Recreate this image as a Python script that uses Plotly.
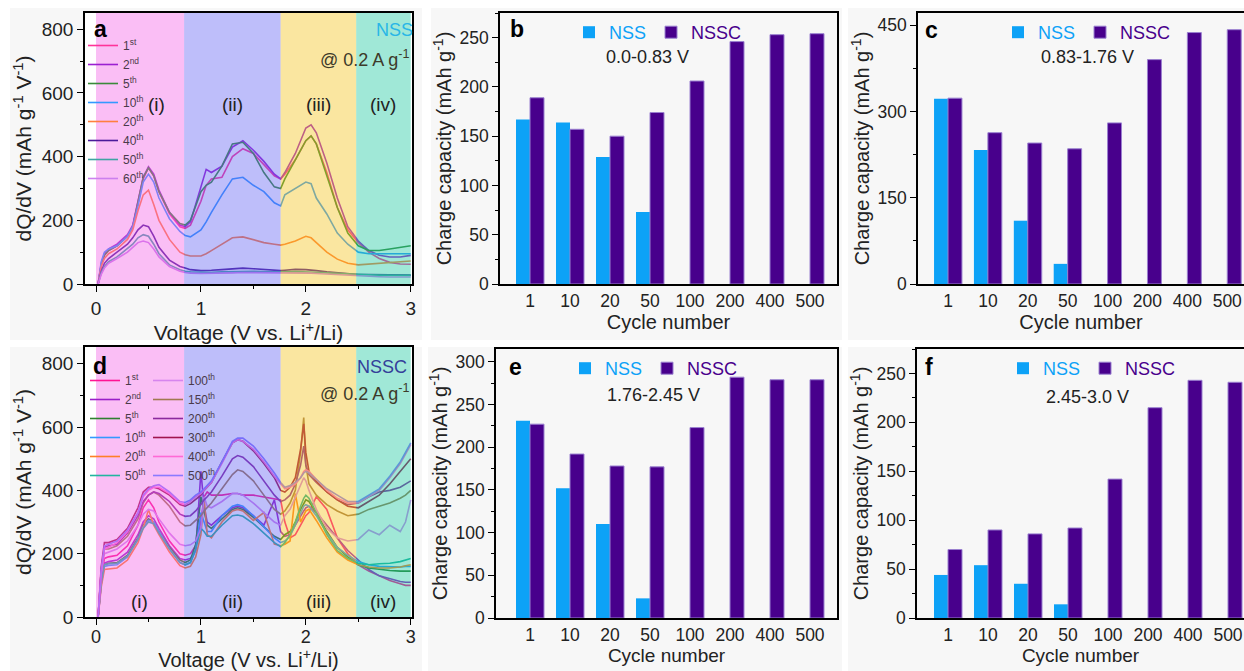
import plotly.graph_objects as go

W, H = 1244, 671
FONT = "Liberation Sans, Arial, sans-serif"

# ---------------- panel a : NSS dQ/dV ----------------
volt_a = [0.02, 0.05, 0.08, 0.12, 0.2, 0.3, 0.35, 0.4, 0.45, 0.5, 0.55, 0.6, 0.7, 0.8, 0.85, 0.9,
          1.0, 1.05, 1.1, 1.2, 1.3, 1.4, 1.5, 1.6, 1.7, 1.76, 1.8, 1.9, 2.0, 2.05, 2.1, 2.2, 2.3,
          2.4, 2.5, 2.6, 2.7, 2.8, 2.9, 3.0]
nss_1st = [0, 60, 90, 105, 120, 150, 180, 250, 330, 365, 340, 290, 220, 180, 175, 185, 260, 310, 330, 335,
           400, 425, 410, 375, 340, 330, 345, 390, 450, 465, 440, 350, 240, 170, 130, 100, 80, 68, 63, 62]
nss_2nd = [0, 65, 95, 110, 125, 155, 185, 255, 335, 368, 345, 295, 225, 185, 180, 195, 300, 360, 350, 370,
           430, 450, 420, 385, 345, 330, 350, 410, 490, 500, 475, 380, 270, 180, 135, 105, 90, 85, 85, 90]
nss_5th = [0, 60, 90, 105, 120, 150, 180, 255, 335, 365, 340, 290, 225, 190, 185, 200, 290, 310, 320, 370,
           440, 445, 410, 350, 305, 300, 330, 390, 450, 465, 440, 340, 240, 160, 120, 105, 105, 110, 115, 120]
nss_10th = [0, 70, 100, 110, 120, 150, 180, 245, 320, 345, 320, 270, 205, 165, 152, 148, 170, 195, 225, 280,
            330, 335, 310, 290, 255, 245, 280, 300, 320, 315, 270, 220, 160, 125, 100, 95, 95, 95, 95, 95]
nss_20th = [0, 55, 80, 95, 110, 140, 170, 230, 280, 295, 250, 200, 140, 100, 92, 88, 88, 95, 105, 125,
            145, 148, 140, 130, 125, 122, 125, 135, 150, 145, 130, 100, 78, 65, 60, 62, 65, 68, 70, 72]
nss_40th = [0, 40, 65, 80, 100, 125, 145, 170, 185, 180, 150, 115, 75, 55, 50, 45, 42, 42, 43, 45,
            48, 50, 48, 45, 43, 42, 43, 46, 45, 44, 42, 38, 35, 32, 30, 30, 29, 28, 28, 28]
nss_50th = [0, 35, 55, 70, 85, 110, 125, 145, 155, 150, 125, 95, 60, 45, 40, 38, 37, 37, 37, 38,
            39, 40, 40, 39, 38, 38, 38, 39, 39, 38, 37, 35, 33, 31, 30, 29, 28, 27, 27, 27]
nss_60th = [0, 30, 50, 65, 80, 100, 115, 130, 135, 130, 110, 85, 55, 40, 36, 34, 33, 33, 33, 34,
            35, 36, 36, 35, 34, 34, 34, 35, 35, 34, 33, 31, 29, 27, 25, 24, 23, 22, 22, 22]
nss_names = ["1<sup>st</sup>", "2<sup>nd</sup>", "5<sup>th</sup>", "10<sup>th</sup>", "20<sup>th</sup>",
             "40<sup>th</sup>", "50<sup>th</sup>", "60<sup>th</sup>"]
nss_colors = ["#ff3399", "#9b1fd1", "#3a8a3a", "#3399ff", "#ff7f3f", "#4b1a9a", "#3fa3a3", "#cc80ee"]

# ---------------- panel d : NSSC dQ/dV ----------------
volt_d = [0.02, 0.05, 0.08, 0.12, 0.2, 0.3, 0.4, 0.45, 0.5, 0.55, 0.6, 0.7, 0.8, 0.85, 0.9, 0.95,
          1.0, 1.03, 1.06, 1.1, 1.2, 1.3, 1.35, 1.4, 1.5, 1.6, 1.7, 1.76, 1.8, 1.85, 1.9, 1.95,
          1.98, 2.0, 2.03, 2.1, 2.2, 2.3, 2.4, 2.5, 2.6, 2.7, 2.8, 2.9, 2.95, 3.0]
nssc_1st = [0, 120, 185, 190, 195, 225, 290, 345, 370, 345, 300, 240, 200, 195, 200, 225, 300, 380, 395, 385,
            385, 390, 390, 385, 385, 380, 375, 370, 300, 250, 260, 290, 310, 320, 330, 380, 340, 250, 200, 165,
            145, 130, 115, 105, 100, 100]
nssc_2nd = [0, 110, 170, 175, 180, 205, 260, 300, 320, 310, 280, 225, 185, 180, 185, 210, 460, 350, 300, 290,
            320, 345, 350, 345, 320, 290, 370, 270, 255, 260, 290, 320, 335, 345, 350, 330, 290, 250, 210, 180,
            150, 130, 120, 112, 110, 110]
nssc_5th = [0, 110, 165, 170, 172, 195, 250, 290, 310, 300, 270, 220, 180, 172, 180, 230, 380, 330, 290, 280,
            310, 340, 345, 340, 315, 285, 255, 245, 260, 270, 300, 340, 360, 370, 365, 330, 270, 220, 190, 165,
            155, 150, 147, 145, 145, 145]
nssc_10th = [0, 105, 160, 163, 165, 190, 245, 285, 305, 300, 270, 215, 172, 165, 172, 210, 330, 300, 270, 270,
             320, 350, 355, 350, 320, 285, 250, 235, 240, 255, 290, 330, 350, 355, 350, 320, 265, 220, 195, 175,
             165, 160, 158, 158, 160, 160]
nssc_20th = [0, 95, 150, 152, 155, 180, 235, 280, 340, 290, 260, 205, 162, 155, 160, 190, 260, 380, 260, 250,
             300, 335, 340, 335, 305, 330, 230, 225, 230, 240, 390, 300, 320, 335, 340, 305, 250, 205, 180, 165,
             158, 155, 155, 158, 162, 165]
nssc_50th = [0, 105, 165, 168, 170, 192, 245, 280, 300, 295, 265, 215, 172, 165, 172, 215, 280, 270, 255, 255,
             290, 320, 322, 318, 295, 265, 235, 222, 235, 260, 300, 350, 375, 385, 375, 330, 260, 210, 185, 170,
             165, 168, 170, 175, 180, 185]
nssc_100th = [0, 140, 200, 205, 215, 240, 290, 325, 340, 335, 310, 265, 230, 225, 228, 240, 280, 380, 350, 345,
              365, 390, 390, 385, 360, 330, 300, 290, 320, 340, 380, 420, 440, 430, 400, 340, 280, 250, 240, 245,
              275, 260, 290, 270, 300, 370]
nssc_150th = [0, 150, 215, 215, 225, 255, 310, 360, 385, 395, 385, 350, 300, 288, 290, 305, 320, 335, 345, 360,
              405, 450, 465, 460, 430, 385, 340, 325, 335, 360, 400, 520, 630, 480, 420, 385, 355, 335, 320, 325,
              340, 350, 360, 375, 385, 400]
nssc_200th = [0, 150, 220, 225, 230, 265, 320, 365, 385, 395, 390, 365, 325, 318, 320, 335, 355, 370, 380, 395,
              445, 500, 510, 505, 475, 430, 385, 365, 370, 385, 420, 480, 540, 480, 450, 425, 395, 370, 355, 360,
              380, 395, 400, 410, 420, 430]
nssc_300th = [0, 160, 235, 235, 245, 280, 345, 395, 410, 410, 405, 385, 355, 350, 358, 372, 385, 400, 410, 425,
              490, 550, 560, 555, 525, 485, 440, 400, 395, 410, 440, 530, 610, 520, 460, 430, 395, 370, 350, 345,
              365, 385, 420, 460, 480, 500]
nssc_400th = [0, 140, 215, 220, 235, 270, 330, 380, 400, 410, 410, 390, 360, 355, 365, 380, 390, 400, 410, 425,
              485, 550, 560, 555, 530, 490, 445, 420, 405, 410, 420, 440, 460, 465, 460, 435, 400, 375, 360, 360,
              380, 400, 440, 485, 515, 545]
nssc_500th = [0, 150, 225, 230, 240, 275, 330, 385, 405, 415, 418, 395, 365, 362, 370, 385, 395, 405, 415, 430,
              490, 555, 565, 565, 540, 500, 455, 425, 410, 415, 425, 440, 455, 460, 455, 435, 405, 385, 365, 365,
              385, 405, 445, 490, 520, 550]
nssc_names_1 = ["1<sup>st</sup>", "2<sup>nd</sup>", "5<sup>th</sup>", "10<sup>th</sup>", "20<sup>th</sup>", "50<sup>th</sup>"]
nssc_names_2 = ["100<sup>th</sup>", "150<sup>th</sup>", "200<sup>th</sup>", "300<sup>th</sup>", "400<sup>th</sup>", "500<sup>th</sup>"]
nssc_colors_1 = ["#ff1493", "#9a1fc8", "#2f7f2f", "#3399ff", "#ff7f27", "#22b5a0"]
nssc_colors_2 = ["#d685ee", "#a07850", "#8b2a9e", "#a0144e", "#ff6ad5", "#8a7aff"]

# voltage regions (i)-(iv)
region_edges = [0.0, 0.84, 1.76, 2.48, 3.0]
region_colors = ["#f25ce6", "#5c5cf2", "#f2c011", "#11c59b"]
region_labels = ["(i)", "(ii)", "(iii)", "(iv)"]

# ---------------- bar panels b, c, e, f ----------------
cycles = ["1", "10", "20", "50", "100", "200", "400", "500"]
b_nss = [167, 164, 129, 73]
b_nssc = [189, 157, 150, 174, 206, 246, 253, 254]
c_nss = [322, 233, 110, 35]
c_nssc = [323, 263, 245, 235, 280, 390, 437, 442]
e_nss = [231, 152, 110, 23]
e_nssc = [227, 192, 178, 177, 223, 282, 279, 279]
f_nss = [44, 54, 35, 14]
f_nssc = [70, 90, 86, 92, 142, 215, 243, 241]
windows = ["0.0-0.83 V", "0.83-1.76 V", "1.76-2.45 V", "2.45-3.0 V"]

NSS_BLUE = "#0da2f7"
NSSC_PURPLE = "#48008c"

fig = go.Figure()


def px(x, y):
    return x / W, 1 - y / H


# dQ/dV curves
for ys, nm, col in zip([nss_1st, nss_2nd, nss_5th, nss_10th, nss_20th, nss_40th, nss_50th, nss_60th],
                       nss_names, nss_colors):
    fig.add_trace(go.Scatter(x=volt_a, y=ys, name=nm, mode="lines", line=dict(color=col, width=1.6),
                             xaxis="x", yaxis="y", legend="legend"))
for ys, nm, col in zip([nssc_1st, nssc_2nd, nssc_5th, nssc_10th, nssc_20th, nssc_50th],
                       nssc_names_1, nssc_colors_1):
    fig.add_trace(go.Scatter(x=volt_d, y=ys, name=nm, mode="lines", line=dict(color=col, width=1.6),
                             xaxis="x4", yaxis="y4", legend="legend2"))
for ys, nm, col in zip([nssc_100th, nssc_150th, nssc_200th, nssc_300th, nssc_400th, nssc_500th],
                       nssc_names_2, nssc_colors_2):
    fig.add_trace(go.Scatter(x=volt_d, y=ys, name=nm, mode="lines", line=dict(color=col, width=1.6),
                             xaxis="x4", yaxis="y4", legend="legend3"))

# bars
bar_sets = [(b_nss, b_nssc, "2", "legend4"), (c_nss, c_nssc, "3", "legend5"),
            (e_nss, e_nssc, "5", "legend6"), (f_nss, f_nssc, "6", "legend7")]
for nss, nssc, k, lg in bar_sets:
    fig.add_trace(go.Bar(x=cycles[:len(nss)], y=nss, name='<span style="color:%s">NSS</span>' % NSS_BLUE,
                         marker=dict(color=NSS_BLUE, line=dict(width=0)), xaxis="x" + k, yaxis="y" + k,
                         legend=lg, offsetgroup="nss"))
    fig.add_trace(go.Bar(x=cycles[:len(nssc)], y=nssc, name='<span style="color:%s">NSSC</span>' % NSSC_PURPLE,
                         marker=dict(color=NSSC_PURPLE, line=dict(width=1, color="#9a80d0")),
                         xaxis="x" + k, yaxis="y" + k, legend=lg, offsetgroup="nssc"))

# ---------------- axes ----------------
def ax_common(tsize):
    return dict(showline=True, linecolor="black", linewidth=1.6, mirror=True, ticks="outside", ticklen=6,
                tickwidth=1.4, tickcolor="black", showgrid=False, zeroline=False,
                tickfont=dict(family=FONT, size=tsize, color="#222"))


def dom_x(x0, x1):
    return [x0 / W, x1 / W]


def dom_y(top, bottom):
    return [1 - bottom / H, 1 - top / H]


title_font = dict(family=FONT, size=21, color="#222")
title_font_low = dict(family=FONT, size=20, color="#222")
bar_title_font = dict(family=FONT, size=20, color="#222")
bar_title_font_low = dict(family=FONT, size=19, color="#222")
minor_v = dict(ticks="outside", ticklen=3.5, tickwidth=1.2, tickcolor="black", dtick=0.5)

lay = {}
# panel a
lay["xaxis"] = dict(ax_common(19), domain=dom_x(85, 412), range=[-0.105, 3.012], dtick=1, anchor="y",
                    minor=minor_v, title=dict(text="Voltage (V vs. Li<sup>+</sup>/Li)", font=title_font, standoff=3))
lay["yaxis"] = dict(ax_common(19), domain=dom_y(13, 284), range=[0, 851], dtick=200, anchor="x",
                    minor=dict(ticks="outside", ticklen=3.5, tickwidth=1.2, tickcolor="black", dtick=100),
                    title=dict(text="dQ/dV (mAh g<sup>-1</sup> V<sup>-1</sup>)", font=title_font, standoff=4))
# panel d
lay["xaxis4"] = dict(ax_common(18), domain=dom_x(85, 412), range=[-0.105, 3.012], dtick=1, anchor="y4",
                     minor=minor_v, ticklabelstandoff=-3,
                     title=dict(text="Voltage (V vs. Li<sup>+</sup>/Li)", font=title_font_low, standoff=1))
lay["yaxis4"] = dict(ax_common(19), domain=dom_y(347, 617), range=[0, 853], dtick=200, anchor="x4",
                     minor=dict(ticks="outside", ticklen=3.5, tickwidth=1.2, tickcolor="black", dtick=100),
                     title=dict(text="dQ/dV (mAh g<sup>-1</sup> V<sup>-1</sup>)", font=title_font, standoff=4))

bar_specs = {
    "2": dict(xd=(500, 837), yd=(13, 284), xr=[-0.75, 7.675], yr=[0, 275], dt=50, mdt=25, low=False),
    "3": dict(xd=(918, 1244), yd=(13, 284), xr=[-0.752, 7.42], yr=[0, 471], dt=150, mdt=75, low=False),
    "5": dict(xd=(496, 837), yd=(349, 618), xr=[-0.85, 7.675], yr=[0, 315], dt=50, mdt=25, low=True),
    "6": dict(xd=(917, 1244), yd=(349, 618), xr=[-0.775, 7.4], yr=[0, 275], dt=50, mdt=25, low=True),
}
for k, s in bar_specs.items():
    xa = ax_common(17.5)
    xa.update(ticks="", type="category", categoryorder="array", categoryarray=cycles,
              domain=dom_x(*s["xd"]), range=s["xr"], anchor="y" + k,
              title=dict(text="Cycle number", font=bar_title_font_low if s["low"] else bar_title_font,
                         standoff=1 if s["low"] else 2))
    ya = ax_common(17.5)
    ya.update(domain=dom_y(*s["yd"]), range=s["yr"], dtick=s["dt"], anchor="x" + k,
              minor=dict(ticks="outside", ticklen=3.5, tickwidth=1.2, tickcolor="black", dtick=s["mdt"]),
              title=dict(text="Charge capacity (mAh g<sup>-1</sup>)", font=bar_title_font, standoff=2))
    lay["xaxis" + k] = xa
    lay["yaxis" + k] = ya

# ---------------- shapes ----------------
shapes = []
# light grey panel boxes
for x0, x1, y0, y1 in [(10, 422, 8, 340), (431, 842, 8, 340), (848, 1244, 8, 340),
                       (10, 422, 347, 671), (428, 842, 347, 671), (848, 1244, 347, 671)]:
    shapes.append(dict(type="rect", xref="paper", yref="paper", x0=x0 / W, x1=x1 / W,
                       y0=1 - y1 / H, y1=1 - y0 / H, fillcolor="#f7f7f7", line=dict(width=0), layer="below"))
for xr, yr in [("x", "y"), ("x4", "y4")]:
    shapes.append(dict(type="rect", xref=xr + " domain", yref=yr + " domain", x0=0, x1=1, y0=0, y1=1,
                       fillcolor="white", line=dict(width=0), layer="below"))
    for i in range(4):
        shapes.append(dict(type="rect", xref=xr, yref=yr + " domain", x0=region_edges[i], x1=region_edges[i + 1],
                           y0=0, y1=1, fillcolor=region_colors[i], opacity=0.4, line=dict(width=0), layer="above"))

# ---------------- annotations ----------------
ann = []


def text(x, y, s, size, color="#222", bold=False, xanchor="center"):
    xx, yy = px(x, y)
    ann.append(dict(x=xx, y=yy, xref="paper", yref="paper", text=("<b>%s</b>" % s) if bold else s,
                    showarrow=False, xanchor=xanchor, yanchor="middle",
                    font=dict(family=FONT, size=size, color=color)))


for lab, (x, y) in zip("abcdef", [(100, 29), (517, 29), (932, 30), (100, 366), (515, 367), (929, 367)]):
    text(x, y, lab, 23, "black", bold=True)
text(394, 30, "NSS", 18, "#29b6e6")
text(365, 58, "@ 0.2 A g<sup>-1</sup>", 18, "#3d3a2a")
text(382, 367, "NSSC", 18, "#34409a")
text(365, 392, "@ 0.2 A g<sup>-1</sup>", 18, "#3d3a2a")
for lab, xa, ya in zip(region_labels, [157, 232, 318, 383], [104] * 4):
    text(xa, ya, lab, 19)
for lab, xa, ya in zip(region_labels, [139, 232, 318, 383], [601] * 4):
    text(xa, ya, lab, 19)
for s, (x, y) in zip(windows, [(647, 57), (1087, 57), (653, 395), (1087, 397)]):
    text(x, y, s, 18)

# ---------------- legends ----------------
def line_legend(x, ytop):
    return dict(x=x / W, y=1 - ytop / H, xanchor="left", yanchor="top", bgcolor="rgba(0,0,0,0)",
                font=dict(family=FONT, size=12, color="#4a3a4a"), tracegroupgap=0, itemwidth=30)


def bar_legend(x, ytop):
    return dict(x=x / W, y=1 - ytop / H, xanchor="left", yanchor="top", bgcolor="rgba(0,0,0,0)",
                orientation="h", font=dict(family=FONT, size=18, color="#222"), itemwidth=30)


lay["legend"] = line_legend(83, 31)
lay["legend2"] = line_legend(85, 366)
lay["legend3"] = line_legend(148, 366)
lay["legend4"] = bar_legend(569, 14)
lay["legend5"] = bar_legend(998, 14)
lay["legend6"] = bar_legend(565, 350)
lay["legend7"] = bar_legend(1003, 350)

fig.update_layout(template="none", width=W, height=H, margin=dict(l=0, r=0, t=0, b=0),
                  paper_bgcolor="white", plot_bgcolor="rgba(0,0,0,0)", barmode="group", bargap=0.3,
                  bargroupgap=0, shapes=shapes, annotations=ann, font=dict(family=FONT), **lay)

fig.write_html("out.html", config={"responsive": False, "displayModeBar": False})
